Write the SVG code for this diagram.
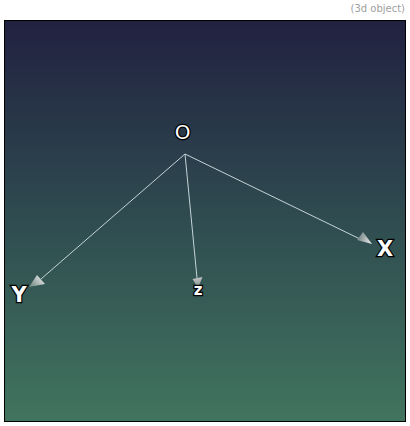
<svg xmlns="http://www.w3.org/2000/svg" width="410" height="426" viewBox="0 0 410 426">
<style>
.lbl{font-family:"DejaVu Sans",sans-serif;font-weight:bold;fill:#fff;stroke:#000;stroke-width:2.5px;paint-order:stroke;text-anchor:middle}
.axis{stroke:#c4d4d8;stroke-width:1;fill:none}
.cap{font-family:"DejaVu Sans",sans-serif;font-size:10px;fill:#a0a0a0;text-anchor:end}
</style>
<defs>
<linearGradient id="bg" x1="0" y1="0" x2="0" y2="1">
<stop offset="0" stop-color="#212140"/>
<stop offset="0.5" stop-color="#2f4c50"/>
<stop offset="1" stop-color="#41745e"/>
</linearGradient>
<linearGradient id="hx" gradientUnits="userSpaceOnUse" x1="357" y1="238" x2="372" y2="244"><stop offset="0" stop-color="#6f7f80"/><stop offset="1" stop-color="#f2f2f2"/></linearGradient>
<linearGradient id="hy" gradientUnits="userSpaceOnUse" x1="44" y1="276" x2="30" y2="287"><stop offset="0" stop-color="#f0f0f0"/><stop offset="1" stop-color="#6f8580"/></linearGradient>
<linearGradient id="hz" gradientUnits="userSpaceOnUse" x1="197" y1="277" x2="198" y2="287"><stop offset="0" stop-color="#c8c8c8"/><stop offset="1" stop-color="#808f8c"/></linearGradient>
</defs>
<rect width="410" height="426" fill="#fff"/>
<text class="cap" x="405" y="12">(3d object)</text>
<rect x="4.500" y="20.500" width="401" height="401" fill="url(#bg)" stroke="#000" stroke-width="1"/>
<g id="connectors">
<line class="axis" x1="185" y1="154" x2="360" y2="239"/>
<line class="axis" x1="185" y1="154" x2="41" y2="279"/>
<line class="axis" x1="185" y1="154" x2="197" y2="278"/>
<polygon points="372,244 357,240 363,232" fill="url(#hx)"/>
<polygon points="29,287 37,275 45,284" fill="url(#hy)"/>
<polygon points="198,288 192.500,279 202.500,277" fill="url(#hz)"/>
</g>
<g id="node-o"><text class="lbl" x="182.500" y="139" font-size="20" style="font-weight:normal">O</text></g>
<g id="node-x"><text class="lbl" x="385" y="256" font-size="21">X</text></g>
<g id="node-y"><text class="lbl" x="19" y="302" font-size="21">Y</text></g>
<g id="node-z"><text class="lbl" x="198" y="295" font-size="15">z</text></g>
</svg>
